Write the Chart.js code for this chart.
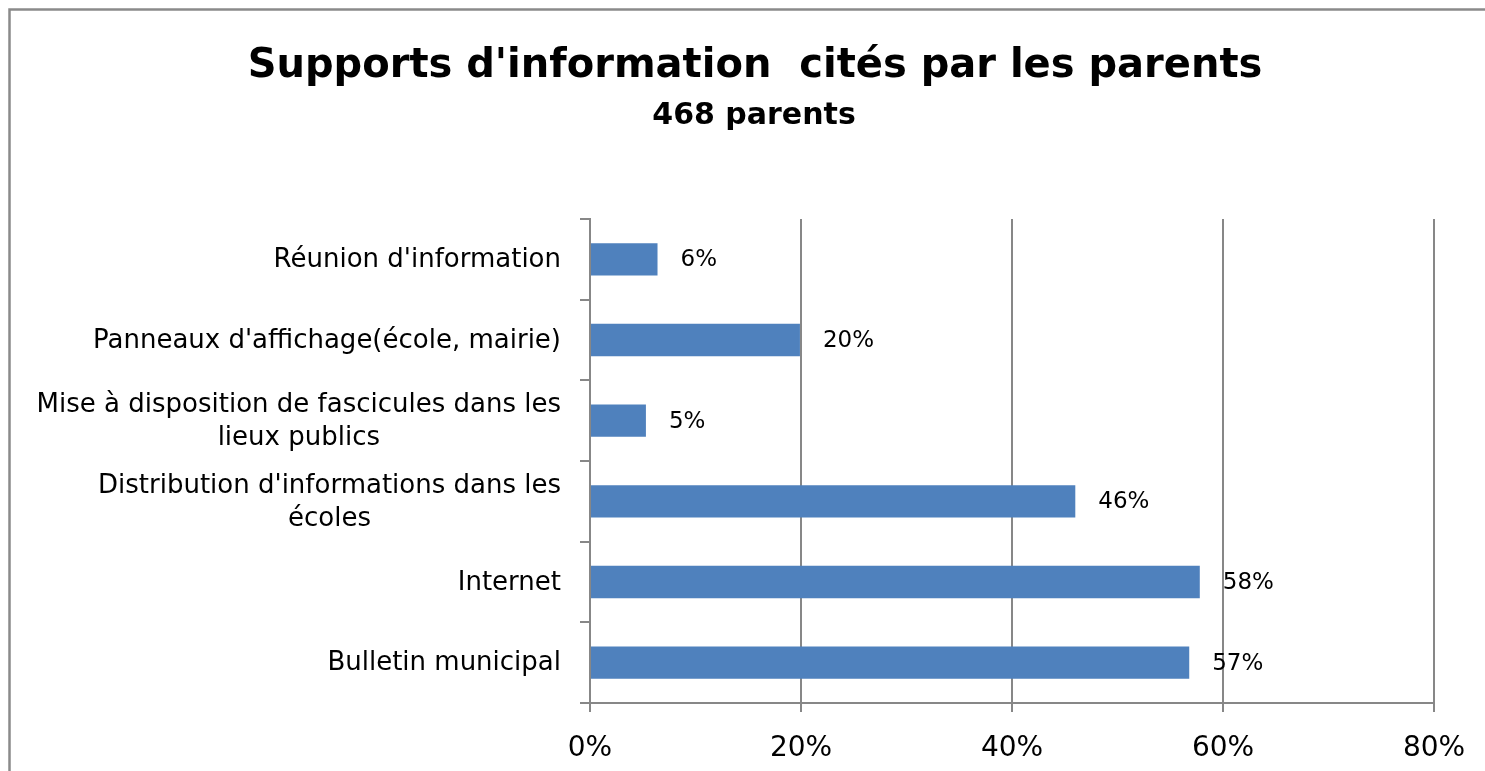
<!DOCTYPE html>
<html>
<head>
<meta charset="utf-8">
<script src="https://cdn.jsdelivr.net/npm/chart.js@4"></script>
<style>
  html, body { margin: 0; padding: 0; background: #fff; overflow: hidden; }
  #wrap { width: 1485px; height: 771px; position: relative; }
</style>
</head>
<body>
<div id="wrap"><canvas id="c"></canvas></div>
<script>
const titleText = "Supports d'information  cités par les parents";
const subtitleText = "468 parents";
const categories = [
  ["Réunion d'information"],
  ["Panneaux d'affichage(école, mairie)"],
  ["Mise à disposition de fascicules dans les", "lieux publics"],
  ["Distribution d'informations dans les", "écoles"],
  ["Internet"],
  ["Bulletin municipal"]
];
const values = [6.4, 19.9, 5.3, 46.0, 57.8, 56.8];
const tickValues = [0, 20, 40, 60, 80];

const FONT = '"DejaVu Sans", sans-serif';
const GRID = '#878787';

const customText = {
  id: 'customText',
  afterDraw(chart) {
    const ctx = chart.ctx;
    ctx.save();
    // outer frame (left and top edges)
    ctx.strokeStyle = '#8a8a8a';
    ctx.lineWidth = 2.5;
    ctx.beginPath();
    ctx.moveTo(9.5, 771);
    ctx.lineTo(9.5, 9.5);
    ctx.lineTo(1485, 9.5);
    ctx.stroke();

    // titles
    ctx.fillStyle = '#000';
    ctx.textAlign = 'center';
    ctx.textBaseline = 'alphabetic';
    ctx.font = 'bold 40px ' + FONT;
    ctx.fillText(titleText, 755, 77);
    ctx.font = 'bold 30px ' + FONT;
    ctx.fillText(subtitleText, 754, 124);

    // category labels (block right-aligned, lines centered)
    const y = chart.scales.y;
    ctx.font = '26px ' + FONT;
    ctx.textBaseline = 'middle';
    const rightEdge = y.right - 29;
    categories.forEach((lines, i) => {
      const yc = y.getPixelForValue(i) + 1;
      const w = Math.max(...lines.map(l => ctx.measureText(l).width));
      const cx = rightEdge - w / 2;
      lines.forEach((l, j) => {
        ctx.fillText(l, cx, yc + (j - (lines.length - 1) / 2) * 33);
      });
    });

    // data labels
    const meta = chart.getDatasetMeta(0);
    ctx.font = '23px ' + FONT;
    ctx.textAlign = 'left';
    meta.data.forEach((bar, i) => {
      ctx.fillText(Math.round(values[i]) + '%', bar.x + 23, bar.y + 1);
    });
    ctx.restore();
  }
};

new Chart(document.getElementById('c'), {
  type: 'bar',
  data: {
    labels: categories,
    datasets: [{
      data: values,
      backgroundColor: '#4F81BD',
      borderWidth: 0,
      barPercentage: 0.4,
      categoryPercentage: 1.0
    }]
  },
  plugins: [customText],
  options: {
    indexAxis: 'y',
    responsive: true,
    maintainAspectRatio: false,
    animation: false,
    devicePixelRatio: 1,
    layout: { padding: { left: 0, right: 51, top: 219, bottom: 0 } },
    plugins: {
      legend: { display: false },
      title: { display: false },
      tooltip: { enabled: false }
    },
    scales: {
      x: {
        min: 0,
        max: 80,
        afterBuildTicks(scale) { scale.ticks = tickValues.map(v => ({ value: v })); },
        afterFit(scale) { scale.height = 68; scale.paddingLeft = 0; scale.paddingRight = 0; },
        ticks: {
          callback: v => v + '%',
          font: { family: FONT, size: 28 },
          color: '#000',
          padding: 20,
          maxRotation: 0
        },
        grid: { color: GRID, lineWidth: 2, drawTicks: true, tickLength: 9, tickColor: GRID },
        border: { display: true, color: GRID, width: 2 }
      },
      y: {
        afterFit(scale) { scale.width = 590; scale.paddingTop = 0; scale.paddingBottom = 0; },
        ticks: { display: false },
        grid: { drawOnChartArea: false, drawTicks: true, tickLength: 10, color: GRID, tickColor: GRID, lineWidth: 2, offset: true },
        border: { display: true, color: GRID, width: 2 }
      }
    }
  }
});
</script>
</body>
</html>
